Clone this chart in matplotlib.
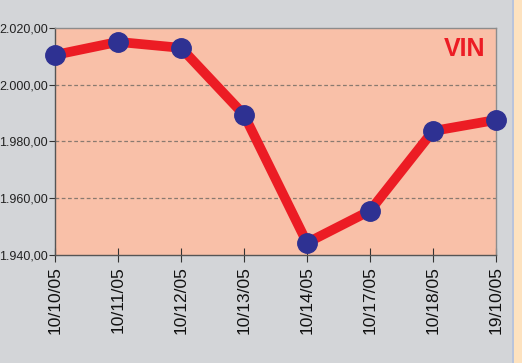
import matplotlib.pyplot as plt
from matplotlib.patches import Rectangle

# =========================
# Data
# =========================
dates = ["10/10/05", "10/11/05", "10/12/05", "10/13/05",
         "10/14/05", "10/17/05", "10/18/05", "19/10/05"]
values = [2010.5, 2015.1, 2013.0, 1989.4, 1944.3, 1955.6, 1983.7, 1987.6]
yticks = [1940, 1960, 1980, 2000, 2020]
ytick_labels = ["1.940,00", "1.960,00", "1.980,00", "2.000,00", "2.020,00"]

BG = "#d3d5d8"
FACE = "#f9c0a8"
RED = "#ec1c24"
BLUE = "#2e3192"

plt.rcParams['font.family'] = ['Liberation Sans', 'DejaVu Sans']

fig = plt.figure(figsize=(5.22, 3.63), dpi=100, facecolor=BG)

# right side strip
fig.patches.append(Rectangle((514 / 522, 0), 8 / 522, 1, transform=fig.transFigure,
                             facecolor="#fde2bf", edgecolor="none", zorder=0))
fig.patches.append(Rectangle((512 / 522, 0), 2 / 522, 1, transform=fig.transFigure,
                             facecolor="#b8c4dc", edgecolor="none", zorder=0))

ax = fig.add_axes([55 / 522, 1 - 255 / 363, 441 / 522, 227 / 363])
ax.set_facecolor(FACE)

x = range(len(dates))
ax.plot(x, values, color=RED, linewidth=7, solid_capstyle="round", zorder=3, clip_on=False)
ax.plot(x, values, "o", color=BLUE, markersize=14, zorder=4, clip_on=False)

ax.set_xlim(0, len(dates) - 1)
ax.set_ylim(1940, 2020)
ax.set_yticks(yticks)
ax.set_yticklabels(ytick_labels, fontsize=9, color="#222222")
ax.set_xticks(list(x))
ax.set_xticklabels(dates, rotation=90, fontsize=12.5, color="#111111")

for v in [1960, 1980, 2000]:
    ax.axhline(v, color="#8a7a70", linestyle=(0, (3, 2)), linewidth=0.9, zorder=1)

for s in ax.spines.values():
    s.set_color("#8c8c8c")
    s.set_linewidth(1.0)
ax.spines["left"].set_color("#555555")
ax.spines["bottom"].set_color("#555555")

ax.tick_params(axis="x", direction="inout", length=10, width=0.8, color="#333333", pad=3)
ax.tick_params(axis="y", direction="out", length=4, width=0.8, color="#333333", pad=1)

ax.text(0.975, 0.96, "VIN", transform=ax.transAxes, ha="right", va="top",
        color=RED, fontsize=18, fontweight="bold")

fig.savefig("out.png", dpi=100, facecolor=BG)
